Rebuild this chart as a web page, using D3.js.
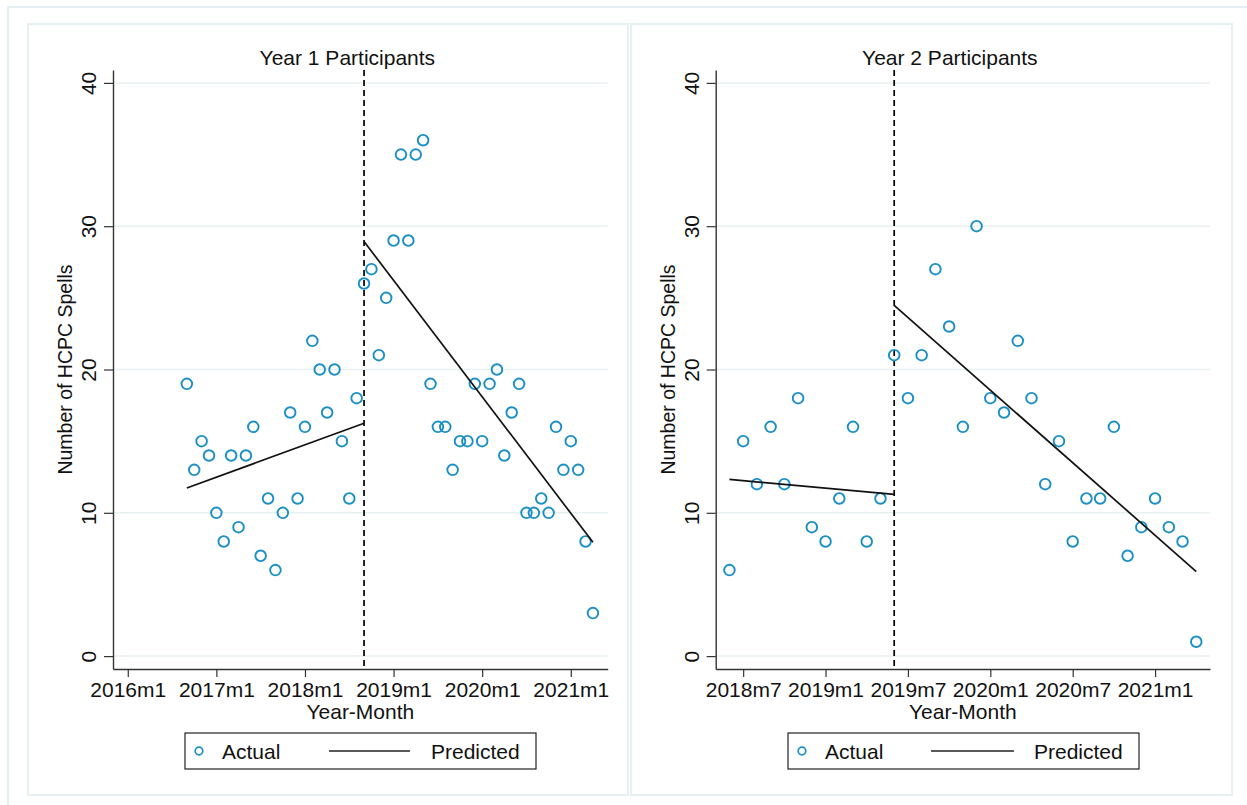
<!DOCTYPE html>
<html>
<head>
<meta charset="utf-8">
<script src="https://cdn.jsdelivr.net/npm/d3@7"></script>
<style>
  body { margin: 0; background: #fff; }
  svg { display: block; font-family: "Liberation Sans", Arial, sans-serif; }
</style>
</head>
<body>
<div id="chart"></div>
<script>
// data
const y1Title = "Year 1 Participants";
const y1Start = "2016m9";
const y1Actual = [19, 13, 15, 14, 10, 8, 14, 9, 14, 16, 7, 11, 6, 10, 17, 11, 16, 22, 20, 17, 20, 15, 11, 18,
  26, 27, 21, 25, 29, 35, 29, 35, 36, 19, 16, 16, 13, 15, 15, 19, 15, 19, 20, 14, 17, 19, 10, 10, 11, 10, 16, 13, 15, 13, 8, 3];
const y1Cut = "2018m9";
const y1PredMonths = ["2016m9", "2018m9", "2018m9", "2021m4"];
const y1PredValues = [11.73, 16.25, 28.93, 7.94];
const y1Ticks = ["2016m1", "2017m1", "2018m1", "2019m1", "2020m1", "2021m1"];
const y1Range = ["2015m11", "2021m6"];

const y2Title = "Year 2 Participants";
const y2Start = "2018m6";
const y2Actual = [6, 15, 12, 16, 12, 18, 9, 8, 11, 16, 8, 11,
  21, 18, 21, 27, 23, 16, 30, 18, 17, 22, 18, 12, 15, 8, 11, 11, 16, 7, 9, 11, 9, 8, 1];
const y2Cut = "2019m6";
const y2PredMonths = ["2018m6", "2019m6", "2019m6", "2021m4"];
const y2PredValues = [12.33, 11.29, 24.47, 5.9];
const y2Ticks = ["2018m7", "2019m1", "2019m7", "2020m1", "2020m7", "2021m1"];
const y2Range = ["2018m5", "2021m5"];

const yTicks = [0, 10, 20, 30, 40];
const legendLabels = ["Actual", "Predicted"];

const width = 1247;
const height = 805;
const blue = "#1a8fc6";
const frame = "#e6eff1";
const grid = "#e8f0f2";
const fs = 21;

// "2016m9" -> months since 2016m1
function monthIndex(s) {
  const [yr, m] = s.split("m").map(Number);
  return (yr - 2016) * 12 + (m - 1);
}

const svg = d3.select("#chart")
  .append("svg")
  .attr("width", width)
  .attr("height", height);

// outer region border (only top and left edges fall inside the picture)
svg.append("rect")
  .attr("x", 8).attr("y", 7)
  .attr("width", 1300).attr("height", 900)
  .attr("fill", "none")
  .attr("stroke", frame)
  .attr("stroke-width", 2);

const panels = [
  { title: y1Title, start: y1Start, actual: y1Actual, cut: y1Cut, predM: y1PredMonths, predV: y1PredValues,
    ticks: y1Ticks, range: y1Range, box: [28, 24, 628, 795], plot: [113, 607.7] },
  { title: y2Title, start: y2Start, actual: y2Actual, cut: y2Cut, predM: y2PredMonths, predV: y2PredValues,
    ticks: y2Ticks, range: y2Range, box: [631, 24, 1232, 795], plot: [715.7, 1210] }
];

const plotTop = 70;
const plotBottom = 669;

const y = d3.scaleLinear()
  .domain([-0.9, 40.9])
  .range([plotBottom, plotTop]);

panels.forEach(p => {
  const g = svg.append("g");
  const [bx0, by0, bx1, by1] = p.box;
  const [px0, px1] = p.plot;

  g.append("rect")
    .attr("x", bx0).attr("y", by0)
    .attr("width", bx1 - bx0).attr("height", by1 - by0)
    .attr("fill", "#fff")
    .attr("stroke", frame)
    .attr("stroke-width", 2);

  const x = d3.scaleLinear()
    .domain(p.range.map(monthIndex))
    .range([px0, px1]);

  // gridlines
  g.append("g")
    .selectAll("line")
    .data(yTicks)
    .join("line")
      .attr("x1", px0).attr("x2", px1)
      .attr("y1", d => y(d)).attr("y2", d => y(d))
      .attr("stroke", grid)
      .attr("stroke-width", 1.5);

  // y axis
  const yAx = g.append("g")
    .attr("transform", `translate(${px0},0)`)
    .call(d3.axisLeft(y).tickValues(yTicks).tickSize(9).tickPadding(5).tickSizeOuter(0));
  yAx.select(".domain").attr("stroke", "#333").attr("stroke-width", 1.4);
  yAx.selectAll(".tick line").attr("stroke", "#333").attr("stroke-width", 1.2);
  yAx.selectAll(".tick text")
    .attr("font-size", fs)
    .attr("fill", "#111")
    .attr("transform", "rotate(-90)")
    .attr("x", 0).attr("y", -17)
    .attr("text-anchor", "middle")
    .attr("dy", 0);

  // x axis
  const xAx = g.append("g")
    .attr("transform", `translate(0,${plotBottom})`)
    .call(d3.axisBottom(x)
      .tickValues(p.ticks.map(monthIndex))
      .tickFormat((d, i) => p.ticks[i])
      .tickSize(8).tickPadding(5).tickSizeOuter(0));
  xAx.select(".domain").attr("stroke", "#333").attr("stroke-width", 1.4);
  xAx.selectAll(".tick line").attr("stroke", "#333").attr("stroke-width", 1.2);
  xAx.selectAll(".tick text").attr("font-size", fs).attr("fill", "#111");

  // axis titles
  g.append("text")
    .attr("x", (px0 + px1) / 2).attr("y", 719)
    .attr("text-anchor", "middle")
    .attr("font-size", fs).attr("fill", "#111")
    .text("Year-Month");

  g.append("text")
    .attr("transform", `translate(${px0 - 41},${y(20)}) rotate(-90)`)
    .attr("text-anchor", "middle")
    .attr("font-size", 19.5).attr("fill", "#111")
    .text("Number of HCPC Spells");

  // panel title
  g.append("text")
    .attr("x", (px0 + px1) / 2 - 13).attr("y", 65)
    .attr("text-anchor", "middle")
    .attr("font-size", fs).attr("fill", "#111")
    .text(p.title);

  // intervention line
  g.append("line")
    .attr("x1", x(monthIndex(p.cut))).attr("x2", x(monthIndex(p.cut)))
    .attr("y1", plotTop).attr("y2", plotBottom)
    .attr("stroke", "#000")
    .attr("stroke-width", 1.7)
    .attr("stroke-dasharray", "6,4");

  // actual points
  const s0 = monthIndex(p.start);
  g.append("g")
    .selectAll("circle")
    .data(p.actual)
    .join("circle")
      .attr("cx", (d, i) => x(s0 + i))
      .attr("cy", d => y(d))
      .attr("r", 5.3)
      .attr("fill", "none")
      .attr("stroke", blue)
      .attr("stroke-width", 1.9);

  // predicted segments (pre and post)
  const line = d3.line().x(d => x(d[0])).y(d => y(d[1]));
  [[0, 1], [2, 3]].forEach(seg => {
    g.append("path")
      .attr("d", line(seg.map(k => [monthIndex(p.predM[k]), p.predV[k]])))
      .attr("fill", "none")
      .attr("stroke", "#111")
      .attr("stroke-width", 1.7);
  });
});

// legends
const legends = [
  { box: [185, 536], circle: 199, t1: 222, l: [329, 410], t2: 431 },
  { box: [788, 1139], circle: 802, t1: 825, l: [931, 1014], t2: 1034 }
];
legends.forEach(L => {
  const g = svg.append("g");
  g.append("rect")
    .attr("x", L.box[0]).attr("y", 733)
    .attr("width", L.box[1] - L.box[0]).attr("height", 36)
    .attr("fill", "#fff")
    .attr("stroke", "#222")
    .attr("stroke-width", 1.2);
  g.append("circle")
    .attr("cx", L.circle).attr("cy", 751)
    .attr("r", 3.8)
    .attr("fill", "none")
    .attr("stroke", blue)
    .attr("stroke-width", 1.7);
  g.append("text")
    .attr("x", L.t1).attr("y", 758.5)
    .attr("font-size", fs).attr("fill", "#111")
    .text(legendLabels[0]);
  g.append("line")
    .attr("x1", L.l[0]).attr("x2", L.l[1])
    .attr("y1", 751).attr("y2", 751)
    .attr("stroke", "#222").attr("stroke-width", 1.6);
  g.append("text")
    .attr("x", L.t2).attr("y", 758.5)
    .attr("font-size", fs).attr("fill", "#111")
    .text(legendLabels[1]);
});
</script>
</body>
</html>
